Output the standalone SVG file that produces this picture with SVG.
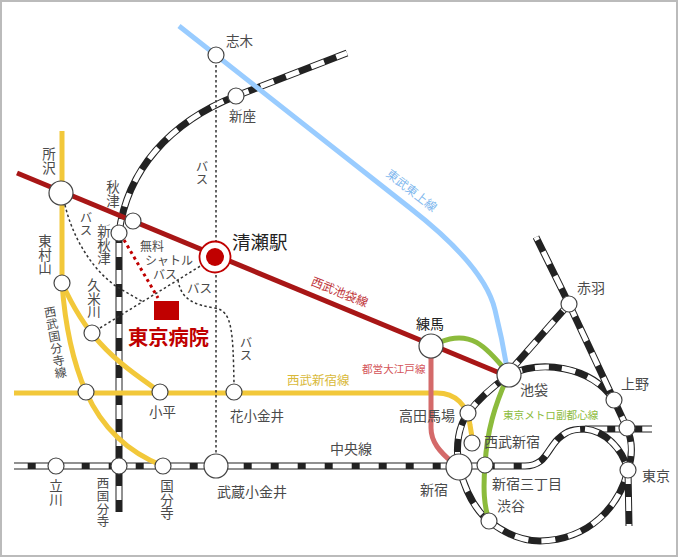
<svg xmlns="http://www.w3.org/2000/svg" width="678" height="557" viewBox="0 0 678 557">
<style>
text{font-family:"Noto Sans CJK JP","Noto Sans",sans-serif;fill:#4a4a4a;font-size:13.5px}
.c{text-anchor:middle}
.v{writing-mode:vertical-rl;text-orientation:upright;letter-spacing:.3px}
.line{fill:none;stroke-width:5}
.rb{fill:none;stroke:#222;stroke-width:7}
.rw{fill:none;stroke:#fff;stroke-width:5}
.d1{stroke-dasharray:19 8;stroke-dashoffset:5.3}
.d2{stroke-dasharray:14 13}
.d3{stroke-dasharray:14 13;stroke-dashoffset:17}
.dot{fill:none;stroke:#333;stroke-width:1.5;stroke-dasharray:2.5 2.5}
.st{fill:#fff;stroke:#444;stroke-width:1.2}
</style>
<defs>
<path id="chuo" d="M14,466H525C545,466 547,450 558,439C568,430 572,429 590,429H652"/>
<path id="chuo2" d="M585,429C605,431 622,448 628,470"/>
<path id="seibu" d="M119,233V512"/>
<path id="musa" d="M119,233C127,170 170,122 236,96L347,53"/>
<path id="ring" d="M509,375C540,360 590,365 614,400L627,428C632,440 633,455 628,470C620,505 590,540 540,541C520,541 503,532 489,521C475,510 465,490 459,467C455,445 459,425 468,413C480,397 495,385 509,375"/>
<path id="tohoku" d="M509,372L569,304L536,237M569,304L614,400M628,470L629,526"/>
</defs>
<rect x="1" y="1" width="676" height="555" fill="#fff" stroke="#bbb" stroke-width="2"/>
<g id="connectors">
<g class="rails">
<use href="#chuo" class="rb"/><use href="#chuo" class="rw d1"/>
<use href="#chuo2" class="rb"/><use href="#chuo2" class="rw d2"/>
<use href="#seibu" class="rb"/><use href="#seibu" class="rw d3"/>
<use href="#musa" class="rb"/><use href="#musa" class="rw d2"/>
<use href="#ring" class="rb"/><use href="#ring" class="rw d2"/>
<use href="#tohoku" class="rb"/><use href="#tohoku" class="rw d2"/>
</g>
<path class="line" stroke="#99ccff" d="M179,26L410,208C460,247 488,280 495,310C500,330 504,350 507,368"/>
<path class="line" stroke="#a81616" d="M17,173L507,376"/>
<g class="line" stroke="#f2c83a">
<path d="M62,131V283"/>
<path d="M62,283C72,305 85,327 100,343C118,363 140,378 160,392"/>
<path d="M62,283C65,325 72,360 86,392C103,430 130,453 163,466"/>
<path d="M14,393H437C455,393 468,405 470,425L473,443"/>
</g>
<path class="line" stroke="#d46a6a" d="M431,350V428C431,442 440,452 452,462"/>
<g class="line" stroke="#8cbb3c">
<path d="M440,342C470,330 485,345 507,372"/>
<path d="M507,378C495,405 487,430 485,465C483,490 484,505 489,521"/>
</g>
<g class="dot">
<path d="M216,60V456"/>
<path d="M65,205C72,235 90,268 117,287L143,302"/>
<path d="M100,328L202,265"/>
<path d="M178,280C181,300 195,305 215,308C232,311 233,330 234,384"/>
</g>
<path d="M124,240L158,298" fill="none" stroke="#c00000" stroke-width="3" stroke-dasharray="3 3.5"/>
</g>
<g id="n-shiki"><circle class="st" cx="216" cy="55" r="8"/><text x="226" y="46">志木</text></g>
<g id="n-niiza"><circle class="st" cx="236" cy="96" r="8"/><text x="229" y="121">新座</text></g>
<g id="n-tokorozawa"><circle class="st" cx="61" cy="193" r="12"/><text class="v" x="49" y="147">所沢</text></g>
<g id="n-akitsu"><circle class="st" cx="133" cy="221" r="8"/><text class="v" x="113" y="180">秋津</text></g>
<g id="n-shinakitsu"><circle class="st" cx="119" cy="233" r="8"/><text class="v" x="104" y="224">新秋津</text></g>
<g id="n-higashimurayama"><circle class="st" cx="62" cy="283" r="8"/><text class="v" x="45" y="234">東村山</text></g>
<g id="n-kumegawa"><circle class="st" cx="92" cy="333" r="8"/><text class="v" x="94" y="278">久米川</text></g>
<g id="n-kodaira"><circle class="st" cx="160" cy="392" r="8"/><text x="149" y="417">小平</text></g>
<g id="n-hanakoganei"><circle class="st" cx="234" cy="392" r="8"/><text x="230" y="421">花小金井</text></g>
<g id="n-junction"><circle class="st" cx="86" cy="392" r="8"/></g>
<g id="n-tachikawa"><circle class="st" cx="56" cy="466" r="8"/><text class="v" x="56" y="479">立川</text></g>
<g id="n-nishikokubunji"><circle class="st" cx="119" cy="466" r="8"/><text class="v" x="103" y="477" style="font-size:12.5px">西国分寺</text></g>
<g id="n-kokubunji"><circle class="st" cx="163" cy="466" r="8"/><text class="v" x="167" y="479">国分寺</text></g>
<g id="n-musashikoganei"><circle class="st" cx="216" cy="466" r="12"/><text x="217" y="497" style="font-size:14px">武蔵小金井</text></g>
<g id="n-kiyose"><circle cx="215" cy="257" r="15.5" fill="#fff" stroke="#c00000" stroke-width="1.8"/><circle cx="215" cy="257" r="9" fill="#c00000"/><text x="232" y="249" style="font-size:18.5px;fill:#222">清瀬駅</text></g>
<g id="n-hospital"><rect x="154" y="301" width="25" height="19" fill="#c00000"/><text x="128" y="345" style="font-size:20.3px;font-weight:700;fill:#c00000">東京病院</text></g>
<g id="n-nerima"><circle class="st" cx="431" cy="346" r="12"/><text x="416" y="329" style="fill:#222;font-size:14px">練馬</text></g>
<g id="n-ikebukuro"><circle class="st" cx="509" cy="375" r="12"/><text x="520" y="395" style="font-size:14px">池袋</text></g>
<g id="n-akabane"><circle class="st" cx="569" cy="304" r="8"/><text x="577" y="293" style="font-size:14px">赤羽</text></g>
<g id="n-ueno"><circle class="st" cx="614" cy="400" r="8"/><text x="621" y="389" style="font-size:14px">上野</text></g>
<g id="n-ochanomizu"><circle class="st" cx="627" cy="428" r="8"/></g>
<g id="n-tokyo"><circle class="st" cx="628" cy="470" r="8"/><text x="642" y="481" style="font-size:14px">東京</text></g>
<g id="n-takadanobaba"><circle class="st" cx="468" cy="413" r="8"/><text x="399" y="421" style="font-size:14px">高田馬場</text></g>
<g id="n-seibushinjuku"><circle class="st" cx="472" cy="443" r="8"/><text x="484" y="447" style="font-size:14px">西武新宿</text></g>
<g id="n-shinjuku"><circle class="st" cx="459" cy="467" r="13"/><text x="420" y="495" style="font-size:14px">新宿</text></g>
<g id="n-sanchome"><circle class="st" cx="485" cy="465" r="8"/><text x="492" y="489" style="font-size:14px">新宿三丁目</text></g>
<g id="n-shibuya"><circle class="st" cx="489" cy="521" r="8"/><text x="497" y="511" style="font-size:14px">渋谷</text></g>
<g id="labels">
<text class="v" x="202" y="160" style="font-size:12.5px">バス</text>
<text class="v" x="86" y="211" style="font-size:12.5px">バス</text>
<text class="v" x="246" y="336" style="font-size:12.5px">バス</text>
<text x="187" y="293" style="font-size:12.5px">バス</text>
<text x="140" y="251" style="font-size:12px">無料</text>
<text x="145" y="265" style="font-size:12px">シャトル</text>
<text x="153" y="279" style="font-size:12px">バス</text>
<text class="v" transform="translate(49,306) rotate(-10)" x="0" y="0" style="font-size:12px">西武国分寺線</text>
<text x="287" y="385" style="font-size:12.5px;fill:#d9b93a">西武新宿線</text>
<text x="330" y="454" style="font-size:14px">中央線</text>
<text x="503" y="419" style="font-size:10.6px;fill:#8cbb3c">東京メトロ副都心線</text>
<text x="362" y="373" style="font-size:10.6px;fill:#d4555a">都営大江戸線</text>
<text class="c" transform="translate(409,194) rotate(38)" style="font-size:12px;fill:#7fb8ee">東武東上線</text>
<text class="c" transform="translate(338,296) rotate(22)" style="font-size:12px;fill:#c0353a">西武池袋線</text>
</g>
</svg>
